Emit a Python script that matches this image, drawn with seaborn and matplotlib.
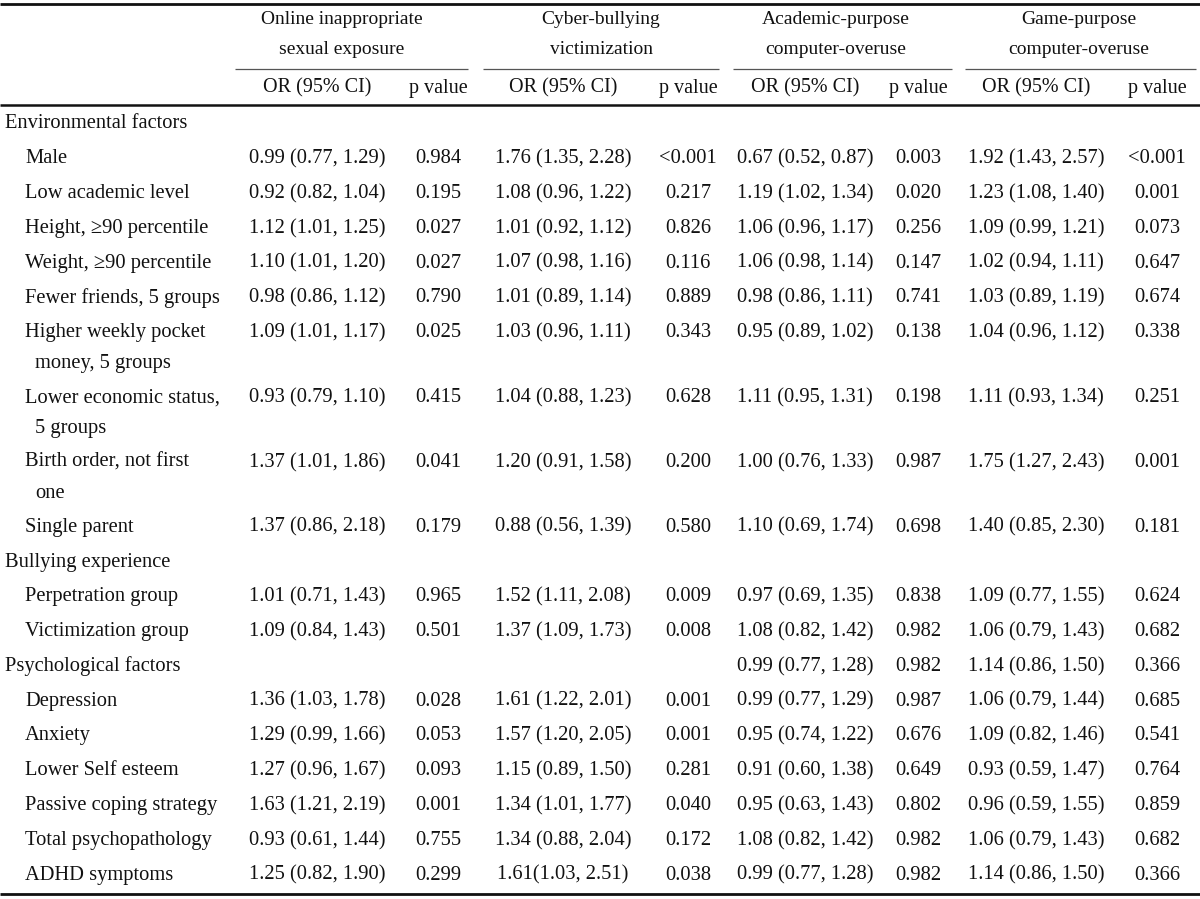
import matplotlib
matplotlib.use("Agg")
import matplotlib.pyplot as plt
import seaborn as sns

# --- table content ---
outcomes = ["Online inappropriate\nsexual exposure", "Cyber-bullying\nvictimization",
            "Academic-purpose\ncomputer-overuse", "Game-purpose\ncomputer-overuse"]
sub_headers = ["OR (95% CI)", "p value"]

row_labels = ["Environmental factors", "Male", "Low academic level",
              "Height, \u226590 percentile", "Weight, \u226590 percentile",
              "Fewer friends, 5 groups", "Higher weekly pocket\nmoney, 5 groups",
              "Lower economic status,\n5 groups", "Birth order, not first\none",
              "Single parent", "Bullying experience", "Perpetration group",
              "Victimization group", "Psychological factors", "Depression", "Anxiety",
              "Lower Self esteem", "Passive coping strategy", "Total psychopathology",
              "ADHD symptoms"]
row_level = [0, 1, 1, 1, 1, 1, 1, 1, 1, 1, 0, 1, 1, 0, 1, 1, 1, 1, 1, 1]

ose_or = ["", "0.99 (0.77, 1.29)", "0.92 (0.82, 1.04)", "1.12 (1.01, 1.25)", "1.10 (1.01, 1.20)",
          "0.98 (0.86, 1.12)", "1.09 (1.01, 1.17)", "0.93 (0.79, 1.10)", "1.37 (1.01, 1.86)",
          "1.37 (0.86, 2.18)", "", "1.01 (0.71, 1.43)", "1.09 (0.84, 1.43)", "",
          "1.36 (1.03, 1.78)", "1.29 (0.99, 1.66)", "1.27 (0.96, 1.67)", "1.63 (1.21, 2.19)",
          "0.93 (0.61, 1.44)", "1.25 (0.82, 1.90)"]
ose_p = ["", "0.984", "0.195", "0.027", "0.027", "0.790", "0.025", "0.415", "0.041", "0.179",
         "", "0.965", "0.501", "", "0.028", "0.053", "0.093", "0.001", "0.755", "0.299"]

cb_or = ["", "1.76 (1.35, 2.28)", "1.08 (0.96, 1.22)", "1.01 (0.92, 1.12)", "1.07 (0.98, 1.16)",
         "1.01 (0.89, 1.14)", "1.03 (0.96, 1.11)", "1.04 (0.88, 1.23)", "1.20 (0.91, 1.58)",
         "0.88 (0.56, 1.39)", "", "1.52 (1.11, 2.08)", "1.37 (1.09, 1.73)", "",
         "1.61 (1.22, 2.01)", "1.57 (1.20, 2.05)", "1.15 (0.89, 1.50)", "1.34 (1.01, 1.77)",
         "1.34 (0.88, 2.04)", "1.61(1.03, 2.51)"]
cb_p = ["", "<0.001", "0.217", "0.826", "0.116", "0.889", "0.343", "0.628", "0.200", "0.580",
        "", "0.009", "0.008", "", "0.001", "0.001", "0.281", "0.040", "0.172", "0.038"]

ac_or = ["", "0.67 (0.52, 0.87)", "1.19 (1.02, 1.34)", "1.06 (0.96, 1.17)", "1.06 (0.98, 1.14)",
         "0.98 (0.86, 1.11)", "0.95 (0.89, 1.02)", "1.11 (0.95, 1.31)", "1.00 (0.76, 1.33)",
         "1.10 (0.69, 1.74)", "", "0.97 (0.69, 1.35)", "1.08 (0.82, 1.42)", "0.99 (0.77, 1.28)",
         "0.99 (0.77, 1.29)", "0.95 (0.74, 1.22)", "0.91 (0.60, 1.38)", "0.95 (0.63, 1.43)",
         "1.08 (0.82, 1.42)", "0.99 (0.77, 1.28)"]
ac_p = ["", "0.003", "0.020", "0.256", "0.147", "0.741", "0.138", "0.198", "0.987", "0.698",
        "", "0.838", "0.982", "0.982", "0.987", "0.676", "0.649", "0.802", "0.982", "0.982"]

gm_or = ["", "1.92 (1.43, 2.57)", "1.23 (1.08, 1.40)", "1.09 (0.99, 1.21)", "1.02 (0.94, 1.11)",
         "1.03 (0.89, 1.19)", "1.04 (0.96, 1.12)", "1.11 (0.93, 1.34)", "1.75 (1.27, 2.43)",
         "1.40 (0.85, 2.30)", "", "1.09 (0.77, 1.55)", "1.06 (0.79, 1.43)", "1.14 (0.86, 1.50)",
         "1.06 (0.79, 1.44)", "1.09 (0.82, 1.46)", "0.93 (0.59, 1.47)", "0.96 (0.59, 1.55)",
         "1.06 (0.79, 1.43)", "1.14 (0.86, 1.50)"]
gm_p = ["", "<0.001", "0.001", "0.073", "0.647", "0.674", "0.338", "0.251", "0.001", "0.181",
        "", "0.624", "0.682", "0.366", "0.685", "0.541", "0.764", "0.859", "0.682", "0.366"]

or_cols = [ose_or, cb_or, ac_or, gm_or]
p_cols = [ose_p, cb_p, ac_p, gm_p]

# --- layout ---
W, H = 1200, 899
or_x = [317, 563, 805, 1036]
p_x = [438, 688, 918, 1157]
spans = [(235, 468), (483, 719), (733, 952), (965, 1196)]
title_x = [342, 601, 836, 1079]
ink = "#111111"
fs_label = 14.8
fs_num = 14.8
fs_head = 14.5
fs_title = 14.0

sns.set_theme(style="white")
plt.rcParams['font.family'] = ['Liberation Serif', 'DejaVu Serif']

fig = plt.figure(figsize=(12, 8.99), dpi=100)
ax = fig.add_axes([0, 0, 1, 1])
ax.set_xlim(0, W)
ax.set_ylim(H, 0)
ax.axis('off')

# rules
ax.hlines(4, 0, W, color=ink, lw=2.0)
ax.hlines(105, 0, W, color=ink, lw=1.8)
ax.hlines(894, 0, W, color=ink, lw=2.0)
for (x0, x1), cx, title in zip(spans, title_x, outcomes):
    ax.hlines(69, x0, x1, color="#555555", lw=0.9)
    l1, l2 = title.split("\n")
    ax.text(cx, 19, l1, ha='center', va='center', fontsize=fs_title, color=ink)
    ax.text(cx, 50, l2, ha='center', va='center', fontsize=fs_title, color=ink)

for ox, px in zip(or_x, p_x):
    ax.text(ox, 88, sub_headers[0], ha='center', va='center', fontsize=fs_head, color=ink)
    ax.text(px, 88, sub_headers[1], ha='center', va='center', fontsize=fs_head, color=ink)

# body rows
y = 124
for i, (lab, lvl) in enumerate(zip(row_labels, row_level)):
    parts = lab.split("\n")
    x0 = 5 if lvl == 0 else 25
    ax.text(x0, y, parts[0], ha='left', va='center', fontsize=fs_label, color=ink)
    if len(parts) > 1:
        ax.text(x0 + 10, y + 31, parts[1], ha='left', va='center', fontsize=fs_label, color=ink)
    for k in range(4):
        if or_cols[k][i]:
            ax.text(or_x[k], y, or_cols[k][i], ha='center', va='center', fontsize=fs_num, color=ink)
        if p_cols[k][i]:
            ax.text(p_x[k], y, p_cols[k][i], ha='center', va='center', fontsize=fs_num, color=ink)
    y += 64.8 if len(parts) > 1 else 34.8

fig.savefig("out.png", dpi=100, facecolor="white")
